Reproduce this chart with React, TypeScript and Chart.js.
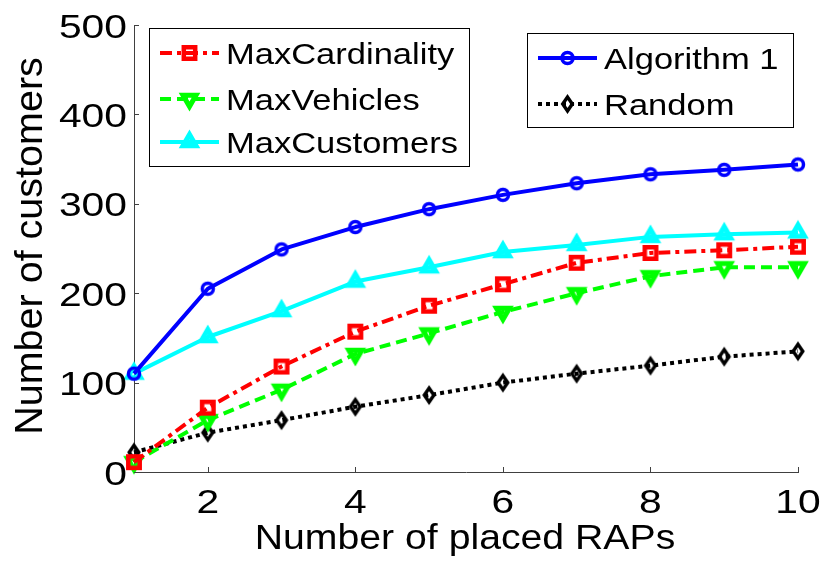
import React, { useEffect, useRef } from 'react';
import { Chart, registerables } from 'chart.js';

Chart.register(...registerables);

const xValues = [1, 2, 3, 4, 5, 6, 7, 8, 9, 10];
const algorithm1 = [110, 205, 249, 274, 294, 310, 323, 333, 338, 344];
const maxCardinality = [11, 72, 118, 157, 186, 210, 234, 245, 248, 252];
const maxVehicles = [11, 58, 92, 132, 155, 179, 200, 219, 229, 229];
const maxCustomers = [110, 151, 180, 213, 229, 246, 254, 263, 266, 268];
const randomSeries = [22, 44, 58, 73, 86, 100, 110, 119, 129, 135];
const xTickValues = [2, 4, 6, 8, 10];
const yTickValues = [0, 100, 200, 300, 400, 500];
const xTitle = 'Number of placed RAPs';
const yTitle = 'Number of customers';

const FONT = "'Liberation Sans', Arial, sans-serif";
const AXIS_COLOR = '#404040';

type Style = {
  label: string;
  color: string;
  dash: number[];
  marker: string;
  rx: number;
  ry: number;
  rotation: number;
  bw: number;
  lw: number;
};

const styles: Record<string, Style> = {
  alg: { label: 'Algorithm 1', color: '#0000ff', dash: [], marker: 'circle', rx: 5.5, ry: 5.5, rotation: 0, bw: 3.5, lw: 4 },
  card: { label: 'MaxCardinality', color: '#ff0000', dash: [12, 5, 4, 5], marker: 'rect', rx: 5.7, ry: 5.7, rotation: 0, bw: 4.5, lw: 4 },
  veh: { label: 'MaxVehicles', color: '#00ff00', dash: [11, 6], marker: 'triangle', rx: 7.5, ry: 7.5, rotation: 180, bw: 5, lw: 4 },
  cust: { label: 'MaxCustomers', color: '#00ffff', dash: [], marker: 'triangle', rx: 7.5, ry: 7.5, rotation: 0, bw: 5, lw: 4 },
  rnd: { label: 'Random', color: '#000000', dash: [4, 4], marker: 'diamond', rx: 4.8, ry: 7, rotation: 0, bw: 3.4, lw: 4 },
};

function drawMarker(ctx: CanvasRenderingContext2D, s: Style, x: number, y: number) {
  const r = s.rx;
  let rad = (s.rotation * Math.PI) / 180;
  ctx.save();
  ctx.setLineDash([]);
  ctx.strokeStyle = s.color;
  ctx.lineWidth = s.bw;
  ctx.lineJoin = 'miter';
  ctx.beginPath();
  if (s.marker === 'circle') {
    ctx.arc(x, y, r, 0, Math.PI * 2);
  } else if (s.marker === 'rect') {
    ctx.rect(x - s.rx, y - s.ry, 2 * s.rx, 2 * s.ry);
  } else if (s.marker === 'triangle') {
    const T = (2 * Math.PI) / 3;
    ctx.moveTo(x + Math.sin(rad) * r, y - Math.cos(rad) * r);
    rad += T;
    ctx.lineTo(x + Math.sin(rad) * r, y - Math.cos(rad) * r);
    rad += T;
    ctx.lineTo(x + Math.sin(rad) * r, y - Math.cos(rad) * r);
    ctx.closePath();
  } else if (s.marker === 'diamond') {
    ctx.moveTo(x - s.rx, y);
    ctx.lineTo(x, y - s.ry);
    ctx.lineTo(x + s.rx, y);
    ctx.lineTo(x, y + s.ry);
    ctx.closePath();
  }
  ctx.stroke();
  ctx.restore();
}

function makeMarkerCanvas(s: Style): HTMLCanvasElement {
  const size = 32;
  const c = document.createElement('canvas');
  c.width = size;
  c.height = size;
  const cctx = c.getContext('2d') as CanvasRenderingContext2D;
  drawMarker(cctx, s, size / 2, size / 2);
  return c;
}

function scaledText(
  ctx: CanvasRenderingContext2D,
  text: string,
  x: number,
  y: number,
  size: number,
  sx: number,
  align: CanvasTextAlign
) {
  ctx.save();
  ctx.font = `${size}px ${FONT}`;
  ctx.fillStyle = '#000';
  ctx.textBaseline = 'alphabetic';
  ctx.textAlign = align;
  ctx.translate(x, y);
  ctx.scale(sx, 1);
  ctx.fillText(text, 0, 0);
  ctx.restore();
}

function drawLegendBox(
  ctx: CanvasRenderingContext2D,
  box: { x: number; y: number; w: number; h: number },
  entries: Style[],
  rowY: number[],
  lineX1: number,
  lineX2: number,
  textX: number
) {
  ctx.save();
  ctx.fillStyle = '#fff';
  ctx.fillRect(box.x, box.y, box.w, box.h);
  ctx.strokeStyle = '#000';
  ctx.lineWidth = 1;
  ctx.strokeRect(box.x + 0.5, box.y + 0.5, box.w, box.h);
  entries.forEach((s, i) => {
    const y = rowY[i];
    ctx.save();
    ctx.strokeStyle = s.color;
    ctx.lineWidth = s.lw;
    ctx.setLineDash(s.dash);
    ctx.lineCap = 'butt';
    ctx.beginPath();
    ctx.moveTo(lineX1, y);
    ctx.lineTo(lineX2, y);
    ctx.stroke();
    ctx.restore();
    drawMarker(ctx, s, (lineX1 + lineX2) / 2, y);
    scaledText(ctx, s.label, textX, y + 10.5, 29, 1.19, 'left');
  });
  ctx.restore();
}

const decorPlugin = {
  id: 'decor',
  afterDraw(chart: any) {
    const ctx: CanvasRenderingContext2D = chart.ctx;
    const xs = chart.scales.x;
    const ys = chart.scales.y;
    const area = chart.chartArea;
    ctx.save();
    ctx.strokeStyle = AXIS_COLOR;
    ctx.lineWidth = 1;
    ctx.beginPath();
    xs.ticks.forEach((t: any) => {
      const px = Math.round(xs.getPixelForValue(t.value)) + 0.5;
      ctx.moveTo(px, area.bottom);
      ctx.lineTo(px, area.bottom - 5);
    });
    ys.ticks.forEach((t: any) => {
      const py = Math.round(ys.getPixelForValue(t.value)) + 0.5;
      ctx.moveTo(area.left, py);
      ctx.lineTo(area.left + 5, py);
    });
    ctx.stroke();
    xs.ticks.forEach((t: any) => {
      const px = xs.getPixelForValue(t.value);
      scaledText(ctx, String(t.value), px, area.bottom + 41, 34, 1.2, 'center');
    });
    ys.ticks.forEach((t: any) => {
      const py = ys.getPixelForValue(t.value);
      scaledText(ctx, String(t.value), area.left - 7, py + 12.5, 34, 1.2, 'right');
    });
    scaledText(ctx, xTitle, (area.left + area.right) / 2 - 1, 549, 35, 1.12, 'center');
    ctx.save();
    ctx.font = `39.5px ${FONT}`;
    ctx.fillStyle = '#000';
    ctx.textAlign = 'center';
    ctx.textBaseline = 'alphabetic';
    ctx.translate(42, 246);
    ctx.rotate(-Math.PI / 2);
    ctx.fillText(yTitle, 0, 0);
    ctx.restore();
    drawLegendBox(
      ctx,
      { x: 149, y: 28, w: 320, h: 138 },
      [styles.card, styles.veh, styles.cust],
      [53, 99, 142],
      160,
      219,
      226
    );
    drawLegendBox(
      ctx,
      { x: 527, y: 33, w: 266, h: 94 },
      [styles.alg, styles.rnd],
      [58, 104],
      538,
      597,
      604
    );
    ctx.restore();
  },
};

function makeDataset(s: Style, values: number[]) {
  return {
    label: s.label,
    data: xValues.map((x, i) => ({ x, y: values[i] })),
    borderColor: s.color,
    backgroundColor: 'rgba(0,0,0,0)',
    borderWidth: s.lw,
    borderDash: s.dash,
    borderCapStyle: 'butt',
    borderJoinStyle: 'round',
    pointStyle: makeMarkerCanvas(s),
    pointRadius: 8,
    tension: 0,
    clip: false,
    fill: false,
  };
}

export default function App() {
  const canvasRef = useRef<HTMLCanvasElement | null>(null);

  useEffect(() => {
    const canvas = canvasRef.current;
    if (!canvas) return;
    const chart = new Chart(canvas, {
      type: 'line',
      data: {
        datasets: [
          makeDataset(styles.alg, algorithm1),
          makeDataset(styles.cust, maxCustomers),
          makeDataset(styles.card, maxCardinality),
          makeDataset(styles.veh, maxVehicles),
          makeDataset(styles.rnd, randomSeries),
        ] as any,
      },
      options: {
        responsive: false,
        animation: false,
        devicePixelRatio: 1,
        layout: { padding: { left: 134, right: 23, top: 25, bottom: 93 } },
        plugins: {
          legend: { display: false },
          tooltip: { enabled: false },
          title: { display: false },
        },
        scales: {
          x: {
            type: 'linear',
            min: 1,
            max: 10,
            afterBuildTicks: (s: any) => {
              s.ticks = xTickValues.map((v) => ({ value: v }));
            },
            ticks: { display: false },
            grid: { display: false, drawTicks: false },
            border: { display: true, color: AXIS_COLOR, width: 1 },
          },
          y: {
            type: 'linear',
            min: 0,
            max: 500,
            afterBuildTicks: (s: any) => {
              s.ticks = yTickValues.map((v) => ({ value: v }));
            },
            ticks: { display: false },
            grid: { display: false, drawTicks: false },
            border: { display: true, color: AXIS_COLOR, width: 1 },
          },
        },
      } as any,
      plugins: [decorPlugin],
    });
    return () => chart.destroy();
  }, []);

  return (
    <div style={{ position: 'fixed', left: 0, top: 0, width: 821, height: 565, background: '#fff' }}>
      <canvas ref={canvasRef} width={821} height={565} />
    </div>
  );
}
